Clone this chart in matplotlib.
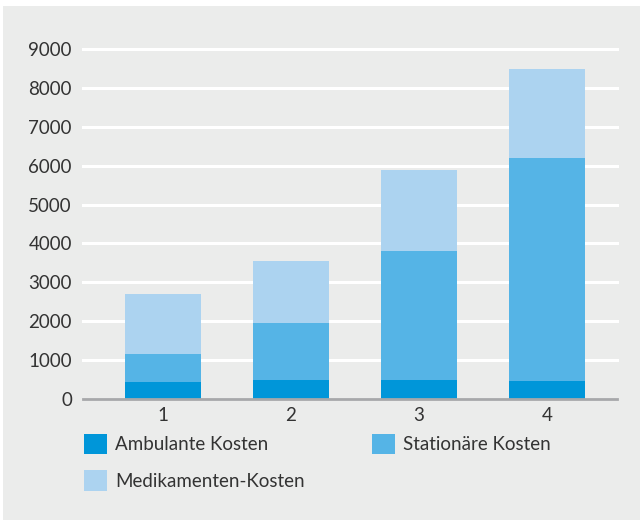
import matplotlib
matplotlib.use('Agg')
import matplotlib.pyplot as plt
from matplotlib.patches import Rectangle, Patch
import numpy as np

# Daten
gruppen = ['1', '2', '3', '4']
ambulant = [440, 500, 490, 470]
stationaer = [710, 1450, 3310, 5730]
medikamente = [1550, 1600, 2100, 2280]

y_ticks = [0, 1000, 2000, 3000, 4000, 5000, 6000, 7000, 8000, 9000]

farben = ['#0096d9', '#55b4e6', '#acd3f0']
hintergrund = '#ebeceb'

plt.rcParams['font.family'] = ['Lato', 'DejaVu Sans']

fig = plt.figure(figsize=(6.4, 5.2), dpi=100, facecolor='white')
# grauer Kasten hinter allem
fig.patches.append(Rectangle((3 / 640, 0), 1, 1 - 6 / 520, transform=fig.transFigure,
                             facecolor=hintergrund, edgecolor='none', zorder=-10))

ax = fig.add_axes([83 / 640, 1 - 399 / 520, (617 - 83) / 640, (399 - 45.1) / 520])
ax.set_facecolor('none')

x = np.arange(1, len(gruppen) + 1)
breite = 0.594
unten = np.zeros(len(gruppen))
for werte, farbe in zip([ambulant, stationaer, medikamente], farben):
    ax.bar(x, werte, width=breite, bottom=unten, color=farbe, zorder=3)
    unten = unten + np.array(werte)

ax.set_xlim(0.375, 4.547)
ax.set_ylim(0, 9100)
ax.set_yticks(y_ticks)
ax.set_xticks(x)
ax.set_xticklabels(gruppen)

# weisse Gitterlinien
for t in y_ticks[1:]:
    ax.axhline(t, color='white', linewidth=2.2, zorder=1, clip_on=False)

for s in ['top', 'right', 'left']:
    ax.spines[s].set_visible(False)
ax.spines['bottom'].set_color('#a7a8aa')
ax.spines['bottom'].set_linewidth(2)
ax.spines['bottom'].set_zorder(4)

ax.tick_params(axis='both', length=0, labelsize=13.5, colors='#333333')
ax.tick_params(axis='y', pad=8)
ax.tick_params(axis='x', pad=6)

namen = ['Ambulante Kosten', 'Stationäre Kosten', 'Medikamenten-Kosten']
handles = [Patch(facecolor=c, edgecolor='none') for c in farben]
# Reihenfolge so, dass zeilenweise gelesen wird
order = [0, 2, 1]
fig.legend([handles[i] for i in order], [namen[i] for i in order],
           loc='upper left', bbox_to_anchor=(84 / 640, 1 - 434 / 520),
           ncol=2, frameon=False, fontsize=13.5, borderpad=0, borderaxespad=0,
           handlelength=1.2, handleheight=1.3, handletextpad=0.45,
           labelspacing=0.85, columnspacing=3.6, labelcolor='#333333')

fig.savefig('out.png', dpi=100, facecolor=fig.get_facecolor())
